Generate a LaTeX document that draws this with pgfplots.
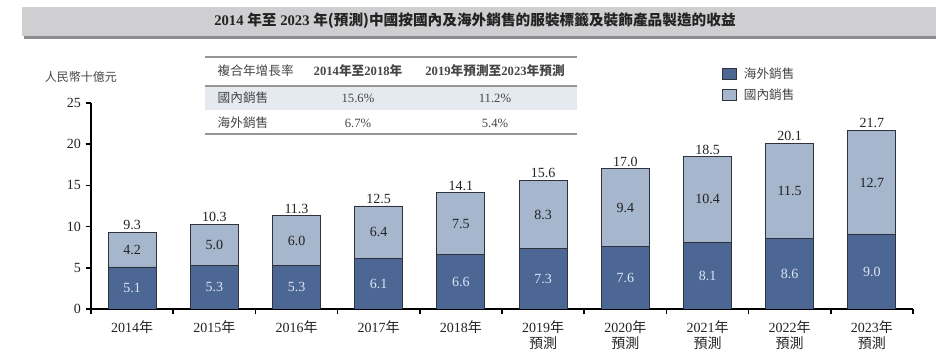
\documentclass[border=0pt]{standalone}
\usepackage{pgfplots}
\pgfplotsset{compat=1.18}
\usepackage{pgfplotstable}
\usepackage{fontspec}
\setmainfont{Liberation Serif}
\newfontfamily\cjk{Noto Sans CJK TC}
\definecolor{darkb}{RGB}{76,103,148}
\definecolor{lightb}{RGB}{166,182,204}
\definecolor{edge}{RGB}{45,50,60}
\definecolor{band}{RGB}{207,207,209}
\definecolor{bandsh}{RGB}{140,140,142}
\definecolor{rowb}{RGB}{229,233,240}
\definecolor{tline}{RGB}{150,150,150}
\definecolor{txt}{RGB}{35,35,35}
\definecolor{ttxt}{RGB}{70,70,70}
\definecolor{intxt}{RGB}{222,230,244}

\pgfplotstableread{
x dark light total
0 5.1 4.2 9.3
1 5.3 5.0 10.3
2 5.3 6.0 11.3
3 6.1 6.4 12.5
4 6.6 7.5 14.1
5 7.3 8.3 15.6
6 7.6 9.4 17.0
7 8.1 10.4 18.5
8 8.6 11.5 20.1
9 9.0 12.7 21.7
}\datatable

\pgfplotsset{
  base/.style={
    at={(68.25pt,40.5pt)}, anchor=south west,
    scale only axis, width=616.5pt, height=154.5pt,
    xmin=-0.5, xmax=9.5, ymin=0, ymax=25,
  }
}

\begin{document}
\begin{tikzpicture}
\useasboundingbox (0,0) rectangle (702pt,272.25pt);
\begin{scope}[shift={(0pt,272.25pt)},x=0.75pt,y=-0.75pt]
  % title band
  \fill[bandsh] (24,9) rectangle (940,39);
  \fill[band] (22,7) rectangle (936,36);
  \node[font=\bfseries\fontsize{11}{13}\selectfont, text=txt] at (475,21)
    {2014 {\cjk 年至} 2023 {\cjk 年(預測)中國按國內及海外銷售的服裝標籤及裝飾產品製造的收益}};
  % table
  \fill[rowb] (205,86) rectangle (577,110);
  \draw[tline, line width=1.2pt] (205,57) -- (577,57);
  \draw[tline, line width=0.8pt] (205,86) -- (577,86);
  \draw[tline, line width=1.2pt] (205,134) -- (577,134);
  \begin{scope}[every node/.style={font=\fontsize{9.5}{11}\selectfont, text=ttxt}]
  \node[anchor=west] at (213,71) {\cjk 複合年增長率};
  \node at (358,71) {\bfseries 2014{\cjk 年至}2018{\cjk 年}};
  \node at (495,71) {\bfseries 2019{\cjk 年預測至}2023{\cjk 年預測}};
  \node[anchor=west] at (213,98) {\cjk 國內銷售};
  \node at (358,98) {15.6\%};
  \node at (495,98) {11.2\%};
  \node[anchor=west] at (213,123) {\cjk 海外銷售};
  \node at (358,123) {6.7\%};
  \node at (495,123) {5.4\%};
  \end{scope}
  % y label
  \node[font=\cjk\fontsize{9}{11}\selectfont, text=ttxt] at (81,77) {人民幣十億元};
\end{scope}

\begin{axis}[base,
  ybar stacked, bar width=36pt,
  axis lines*=left, axis line style={line width=1.3pt, black},
  xtick={0,...,9},
  xticklabels={2014{\cjk 年},2015{\cjk 年},2016{\cjk 年},2017{\cjk 年},2018{\cjk 年},
    {2019{\cjk 年}\\{\cjk 預測}},{2020{\cjk 年}\\{\cjk 預測}},{2021{\cjk 年}\\{\cjk 預測}},
    {2022{\cjk 年}\\{\cjk 預測}},{2023{\cjk 年}\\{\cjk 預測}}},
  x tick label style={align=center, yshift=-1.5pt},
  major x tick style={draw=none},
  minor xtick={-0.5,0.5,...,9.5},
  minor x tick style={line width=1.3pt, black},
  minor tick length=4pt,
  ytick={0,5,...,25},
  y tick style={line width=1.3pt, black},
  major tick length=4pt,
  tick align=outside,
  /pgf/number format/assume math mode=true,
  tick label style={font=\fontsize{10.5}{12}\selectfont, text=txt},
  legend style={at={(0.767,1.185)}, anchor=north west, draw=none, fill=none,
    font=\cjk\fontsize{9.5}{11}\selectfont, text=ttxt, row sep=2pt, inner sep=0pt,
    cells={anchor=west}, /tikz/every even column/.append style={column sep=0pt}},
  legend image code/.code={\draw[#1, line width=0.6pt] (0pt,-4pt) rectangle (11pt,4pt);},
]
\addplot[fill=darkb, draw=edge, line width=0.7pt] table[x=x,y=dark]{\datatable};
\addlegendentry{\hspace{3pt}海外銷售}
\addplot[fill=lightb, draw=edge, line width=0.7pt] table[x=x,y=light]{\datatable};
\addlegendentry{\hspace{3pt}國內銷售}
\end{axis}

\begin{axis}[base, hide axis, clip=false]
\addplot[draw=none, mark=none, nodes near coords, point meta=explicit symbolic,
  nodes near coords style={anchor=center, text=intxt, font=\fontsize{10.5}{12}\selectfont}]
  table[x=x, y expr=\thisrow{dark}/2, meta=dark]{\datatable};
\addplot[draw=none, mark=none, nodes near coords, point meta=explicit symbolic,
  nodes near coords style={anchor=center, text=txt, font=\fontsize{10.5}{12}\selectfont}]
  table[x=x, y expr=\thisrow{dark}+\thisrow{light}/2, meta=light]{\datatable};
\addplot[draw=none, mark=none, nodes near coords, point meta=explicit symbolic,
  nodes near coords style={anchor=south, inner sep=1.5pt, text=txt, font=\fontsize{10.5}{12}\selectfont}]
  table[x=x, y=total, meta=total]{\datatable};
\end{axis}
\end{tikzpicture}
\end{document}
